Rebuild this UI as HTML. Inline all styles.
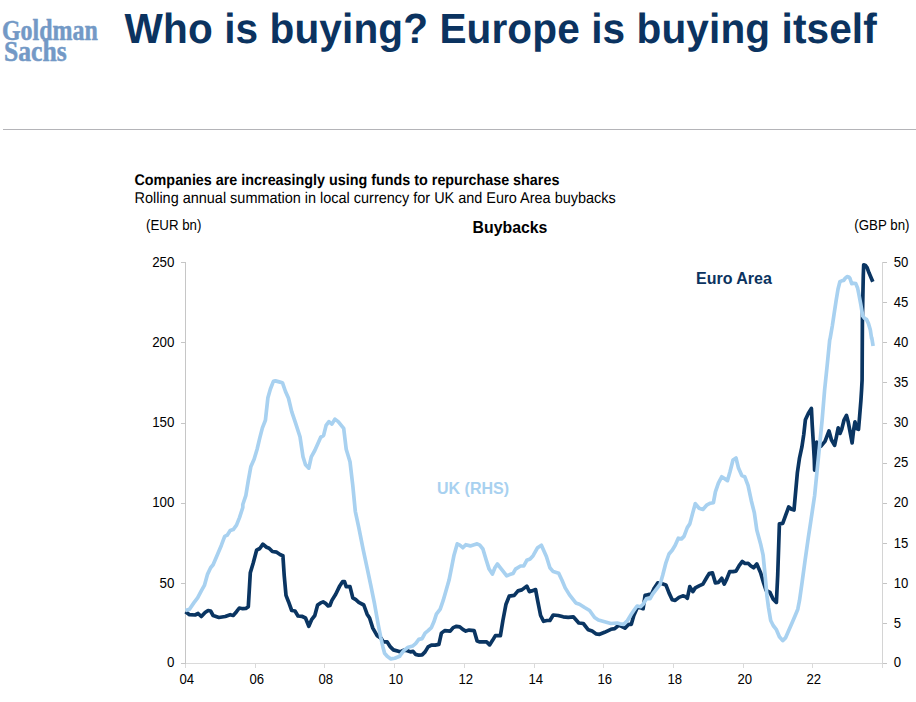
<!DOCTYPE html>
<html><head><meta charset="utf-8"><title>Who is buying?</title>
<style>
html,body{margin:0;padding:0;background:#fff;}
body{width:916px;height:702px;position:relative;overflow:hidden;font-family:"Liberation Sans",sans-serif;color:#000;}
.logo{position:absolute;font-family:"Liberation Serif",serif;font-weight:bold;font-size:29px;line-height:21px;color:#7399c6;transform-origin:0 0;white-space:nowrap;-webkit-text-stroke:0.5px #7399c6;}
.lg1{left:1.7px;top:19.5px;transform:scaleX(0.825);}
.lg2{left:4.2px;top:40.5px;transform:scaleX(0.884);}
.title{position:absolute;left:124.6px;top:6px;letter-spacing:0.1px;font-size:40.6px;font-weight:bold;color:#0b3360;white-space:nowrap;line-height:46px;transform-origin:0 36.8px;transform:scaleY(1.07);}
.rule{position:absolute;left:3px;top:129px;width:913px;height:1px;background:#b4b4b8;}
.sub1{position:absolute;left:134.5px;top:173px;font-size:14.35px;font-weight:bold;white-space:nowrap;line-height:16px;transform-origin:0 12.5px;transform:scaleY(1.07);}
.sub2{position:absolute;left:134.5px;top:189.5px;font-size:14.46px;white-space:nowrap;line-height:16px;transform-origin:0 13.4px;transform:scaleY(1.07);}
svg{position:absolute;left:0;top:0;}
svg text{font-family:"Liberation Sans",sans-serif;font-size:13.15px;fill:#000;}
</style></head><body>
<div class="logo lg1">Goldman</div><div class="logo lg2">Sachs</div>
<div class="rule"></div>
<svg width="916" height="702" viewBox="0 0 916 702">
<g shape-rendering="crispEdges"><rect x="185" y="262" width="1" height="402" fill="#c6c6c6"/><rect x="882" y="262" width="1" height="402" fill="#d4d4d4"/><rect x="186" y="663" width="696" height="1" fill="#dadada"/><rect x="181" y="262" width="4" height="1" fill="#c6c6c6"/><rect x="181" y="342" width="4" height="1" fill="#c6c6c6"/><rect x="181" y="423" width="4" height="1" fill="#c6c6c6"/><rect x="181" y="503" width="4" height="1" fill="#c6c6c6"/><rect x="181" y="583" width="4" height="1" fill="#c6c6c6"/><rect x="181" y="663" width="4" height="1" fill="#c6c6c6"/><rect x="883" y="663" width="4" height="1" fill="#c4c4c4"/><rect x="883" y="623" width="4" height="1" fill="#c4c4c4"/><rect x="883" y="583" width="4" height="1" fill="#c4c4c4"/><rect x="883" y="543" width="4" height="1" fill="#c4c4c4"/><rect x="883" y="503" width="4" height="1" fill="#c4c4c4"/><rect x="883" y="463" width="4" height="1" fill="#c4c4c4"/><rect x="883" y="423" width="4" height="1" fill="#c4c4c4"/><rect x="883" y="382" width="4" height="1" fill="#c4c4c4"/><rect x="883" y="342" width="4" height="1" fill="#c4c4c4"/><rect x="883" y="302" width="4" height="1" fill="#c4c4c4"/><rect x="883" y="262" width="4" height="1" fill="#c4c4c4"/><rect x="185" y="664" width="1" height="4" fill="#dadada"/><rect x="255" y="664" width="1" height="4" fill="#dadada"/><rect x="324" y="664" width="1" height="4" fill="#dadada"/><rect x="394" y="664" width="1" height="4" fill="#dadada"/><rect x="464" y="664" width="1" height="4" fill="#dadada"/><rect x="534" y="664" width="1" height="4" fill="#dadada"/><rect x="603" y="664" width="1" height="4" fill="#dadada"/><rect x="673" y="664" width="1" height="4" fill="#dadada"/><rect x="743" y="664" width="1" height="4" fill="#dadada"/><rect x="812" y="664" width="1" height="4" fill="#dadada"/><rect x="882" y="664" width="1" height="4" fill="#dadada"/></g>
<g><text transform="translate(174.4,266.6) scale(1,1.09)" text-anchor="end" style="font-size:13.35px">250</text><text transform="translate(174.4,346.6) scale(1,1.09)" text-anchor="end" style="font-size:13.35px">200</text><text transform="translate(174.4,426.6) scale(1,1.09)" text-anchor="end" style="font-size:13.35px">150</text><text transform="translate(174.4,507.3) scale(1,1.09)" text-anchor="end" style="font-size:13.35px">100</text><text transform="translate(174.4,587.5) scale(1,1.09)" text-anchor="end" style="font-size:13.35px">50</text><text transform="translate(174.4,667.4) scale(1,1.09)" text-anchor="end" style="font-size:13.35px">0</text><text transform="translate(893.8,667.4) scale(1,1.09)">0</text><text transform="translate(893.8,627.6) scale(1,1.09)">5</text><text transform="translate(893.8,587.5) scale(1,1.09)">10</text><text transform="translate(893.8,547.5) scale(1,1.09)">15</text><text transform="translate(893.8,507.3) scale(1,1.09)">20</text><text transform="translate(893.8,466.6) scale(1,1.09)">25</text><text transform="translate(893.8,426.6) scale(1,1.09)">30</text><text transform="translate(893.8,386.6) scale(1,1.09)">35</text><text transform="translate(893.8,346.6) scale(1,1.09)">40</text><text transform="translate(893.8,306.6) scale(1,1.09)">45</text><text transform="translate(893.8,266.6) scale(1,1.09)">50</text><text transform="translate(186.7,683.8) scale(1,1.09)" text-anchor="middle">04</text><text transform="translate(256.7,683.8) scale(1,1.09)" text-anchor="middle">06</text><text transform="translate(325.7,683.8) scale(1,1.09)" text-anchor="middle">08</text><text transform="translate(395.7,683.8) scale(1,1.09)" text-anchor="middle">10</text><text transform="translate(465.7,683.8) scale(1,1.09)" text-anchor="middle">12</text><text transform="translate(535.7,683.8) scale(1,1.09)" text-anchor="middle">14</text><text transform="translate(604.7,683.8) scale(1,1.09)" text-anchor="middle">16</text><text transform="translate(674.7,683.8) scale(1,1.09)" text-anchor="middle">18</text><text transform="translate(744.7,683.8) scale(1,1.09)" text-anchor="middle">20</text><text transform="translate(813.7,683.8) scale(1,1.09)" text-anchor="middle">22</text></g>
<text transform="translate(124.6,42.8) scale(1,1.04)" style="text-rendering:geometricPrecision;font-size:40.6px;font-weight:bold;fill:#0b3360;letter-spacing:0.1px">Who is buying? Europe is buying itself</text>
<text transform="translate(134.5,185.2) scale(1,1.075)" style="text-rendering:geometricPrecision;font-size:14.35px;font-weight:bold">Companies are increasingly using funds to repurchase shares</text>
<text transform="translate(134.5,202.9) scale(1,1.075)" style="text-rendering:geometricPrecision;font-size:14.46px">Rolling annual summation in local currency for UK and Euro Area buybacks</text>
<text transform="translate(146,229.8) scale(1,1.09)" style="font-size:13.3px">(EUR bn)</text>
<text transform="translate(854.3,229.8) scale(1,1.09)" style="font-size:13.3px">(GBP bn)</text>
<text x="510" y="232.6" text-anchor="middle" style="font-size:15.85px;font-weight:bold">Buybacks</text>
<text x="696" y="284" style="font-size:16px;font-weight:bold;fill:#0b3360">Euro Area</text>
<text x="437" y="494" style="font-size:16px;font-weight:bold;fill:#a8d1f0">UK (RHS)</text>
<path d="M185.5,611.7 L189.5,614.7 L195.1,615.0 L198.1,613.5 L201.3,616.5 L205.1,612.5 L208.1,610.5 L210.6,611.0 L213.1,615.5 L218.9,617.5 L225.2,616.5 L230.2,614.7 L233.2,615.5 L236.5,611.7 L239.3,608.0 L242.8,608.7 L245.8,608.5 L248.3,606.7 L250.3,572.8 L253.3,562.8 L256.6,550.2 L259.8,548.5 L262.9,544.2 L266.6,547.2 L269.1,548.2 L272.4,551.5 L276.7,552.2 L280.4,554.7 L282.9,555.7 L284.2,575.3 L286.0,595.4 L288.5,601.7 L291.7,610.5 L295.0,611.0 L298.0,616.0 L301.8,616.3 L305.5,618.0 L308.8,626.3 L311.8,619.3 L314.8,615.5 L317.6,605.0 L320.6,602.9 L323.1,601.9 L325.6,603.4 L328.1,606.0 L329.9,605.5 L331.9,600.4 L335.7,594.2 L339.4,586.6 L342.7,581.6 L344.5,581.6 L346.2,586.6 L350.0,586.6 L352.8,597.9 L355.8,599.7 L358.8,602.4 L363.8,605.0 L367.1,614.2 L369.6,618.0 L372.8,628.1 L377.1,635.6 L380.9,638.1 L383.4,641.9 L387.2,641.9 L390.4,646.9 L393.4,649.9 L398.4,651.2 L400.0,651.9 L403.8,650.2 L407.5,650.7 L410.5,651.9 L413.1,651.4 L415.6,654.4 L418.8,655.2 L422.1,654.9 L425.1,651.9 L428.1,646.9 L431.4,645.1 L435.2,645.1 L438.9,644.4 L441.4,633.1 L444.7,630.6 L450.2,631.1 L453.2,627.6 L456.5,626.3 L459.8,626.8 L462.8,629.3 L465.8,631.1 L469.1,630.1 L474.1,630.6 L477.1,641.1 L479.8,641.9 L486.6,641.9 L489.6,644.9 L492.4,640.6 L495.4,635.6 L500.4,635.6 L502.9,620.5 L506.0,604.2 L509.2,596.2 L514.2,595.4 L518.0,590.9 L521.8,589.9 L526.8,586.1 L529.3,591.6 L531.8,590.9 L535.6,589.6 L537.6,600.4 L540.6,615.5 L543.6,621.3 L546.9,620.5 L549.9,620.5 L553.2,615.0 L558.2,615.5 L563.2,616.8 L568.2,617.3 L573.3,616.8 L578.8,623.0 L583.3,623.5 L588.3,629.8 L592.1,631.1 L595.9,633.8 L599.6,634.3 L604.6,632.3 L610.9,629.3 L614.7,628.6 L618.4,625.5 L620.0,625.5 L625.0,628.1 L628.8,624.3 L631.3,624.3 L633.8,615.5 L637.1,608.0 L640.1,607.5 L643.1,608.7 L645.1,595.4 L648.1,594.7 L651.4,594.2 L654.4,587.9 L657.7,582.9 L661.4,583.4 L665.9,584.9 L669.0,592.9 L672.2,599.7 L675.2,600.4 L679.0,597.4 L682.8,595.9 L685.8,596.7 L687.3,598.4 L689.8,586.6 L692.8,591.6 L695.3,587.9 L699.1,585.9 L702.9,584.1 L706.6,577.8 L709.1,573.6 L712.4,572.8 L715.4,582.9 L718.4,582.4 L721.7,578.3 L724.2,584.1 L726.7,579.1 L729.7,571.6 L733.0,571.6 L736.0,571.1 L739.3,565.3 L742.3,561.5 L745.0,563.5 L748.1,563.3 L750.6,565.8 L753.6,567.8 L756.8,564.0 L760.6,572.8 L763.6,582.9 L766.1,590.4 L769.9,592.4 L773.2,599.2 L776.4,602.4 L777.7,575.3 L778.7,545.2 L779.4,523.9 L782.7,523.4 L785.7,515.1 L788.7,507.0 L791.5,509.3 L794.0,510.0 L797.4,472.4 L799.5,458.1 L801.9,446.9 L803.8,434.2 L805.4,419.8 L808.3,413.5 L811.4,408.4 L812.2,424.6 L813.4,443.8 L814.3,459.7 L814.6,470.1 L815.4,456.5 L816.7,442.2 L817.8,446.9 L821.0,446.1 L825.0,441.4 L827.1,435.8 L829.0,431.0 L831.4,439.8 L834.6,445.3 L836.6,435.8 L838.2,427.8 L840.1,433.4 L841.7,429.4 L844.1,419.8 L846.5,415.4 L848.1,421.4 L850.5,434.2 L852.1,443.0 L853.7,429.4 L855.0,421.8 L856.5,428.6 L858.5,429.4 L859.6,416.7 L860.9,400.7 L861.6,389.6 L862.1,380.0 L862.4,319.7 L862.9,294.3 L863.3,275.3 L863.7,264.9 L865.2,265.2 L867.1,267.7 L869.0,272.8 L870.9,277.2 L872.8,281.7" fill="none" stroke="#0a3562" stroke-width="3.7" stroke-linejoin="round" stroke-linecap="butt"/>
<path d="M185.5,610.5 L189.5,609.2 L193.8,602.9 L197.6,597.9 L201.3,590.9 L204.4,585.4 L207.6,574.1 L210.6,567.8 L213.1,564.8 L217.7,554.0 L221.4,545.2 L224.7,536.4 L227.2,535.2 L230.2,530.6 L233.2,529.6 L236.5,525.1 L239.5,517.6 L242.8,507.5 L242.8,504.5 L245.8,495.7 L248.3,480.6 L250.8,466.8 L254.1,459.3 L257.1,449.2 L259.8,437.9 L262.4,427.9 L265.4,420.3 L267.9,397.8 L270.4,389.0 L273.4,381.4 L275.4,380.9 L279.2,381.9 L282.4,382.7 L285.5,391.5 L288.5,398.3 L291.7,411.6 L295.5,422.9 L300.0,436.7 L303.0,456.8 L305.5,464.8 L308.8,468.1 L311.3,456.8 L314.8,450.5 L317.6,444.2 L320.6,437.4 L323.6,435.4 L326.1,425.4 L328.9,421.6 L331.9,424.1 L334.9,419.1 L338.2,421.6 L343.7,428.4 L346.2,449.2 L350.0,461.8 L352.8,485.6 L355.3,511.3 L358.8,527.6 L363.3,550.2 L367.1,567.8 L370.8,585.4 L374.6,604.2 L378.4,625.5 L380.9,638.1 L382.9,646.9 L384.6,653.2 L387.2,656.2 L390.9,658.9 L394.7,658.2 L399.7,656.2 L400.0,655.7 L403.8,650.7 L407.5,647.6 L412.6,646.1 L415.6,643.6 L418.8,639.4 L422.1,638.6 L425.1,633.1 L428.1,630.6 L431.4,627.6 L433.9,621.8 L436.4,614.2 L440.2,609.2 L443.2,600.4 L446.5,589.1 L449.0,580.3 L451.5,567.8 L454.0,555.2 L457.2,543.9 L459.8,545.2 L462.8,547.7 L465.8,544.7 L470.3,545.9 L474.1,544.7 L477.1,543.9 L479.8,545.2 L482.9,549.0 L485.9,559.0 L489.1,569.1 L492.4,574.1 L494.9,567.8 L497.4,564.0 L500.4,567.8 L503.4,571.6 L506.7,575.8 L509.7,574.6 L513.0,573.6 L515.5,569.1 L520.5,566.0 L523.8,565.8 L526.8,560.3 L530.1,559.0 L533.1,555.7 L537.6,547.7 L541.4,545.2 L543.6,550.2 L546.4,556.5 L549.9,567.8 L553.2,571.6 L558.7,573.3 L562.0,580.3 L565.2,587.9 L569.5,594.9 L575.8,602.9 L579.5,604.2 L584.6,607.5 L589.6,610.5 L594.6,617.5 L598.4,620.0 L604.6,621.8 L610.9,623.5 L617.2,623.0 L620.0,623.8 L623.8,624.3 L627.5,620.5 L631.3,614.2 L633.8,610.5 L637.1,606.0 L640.6,606.7 L643.1,604.2 L646.4,598.7 L650.1,598.7 L652.6,594.2 L656.4,589.1 L660.2,584.1 L662.7,575.3 L665.9,562.8 L669.0,554.0 L672.2,550.2 L675.2,545.2 L678.3,538.2 L681.5,538.9 L684.0,536.4 L687.3,527.6 L689.8,523.9 L692.8,512.6 L695.3,503.8 L695.3,503.7 L699.1,508.2 L702.9,509.5 L706.6,505.2 L710.4,503.2 L713.4,502.7 L715.4,491.9 L718.4,483.1 L721.7,476.8 L725.0,478.9 L727.5,480.6 L730.0,471.8 L733.0,460.0 L736.0,458.0 L738.5,468.1 L741.8,475.6 L744.8,476.8 L748.1,485.6 L751.3,500.7 L754.3,512.6 L756.8,530.1 L760.6,543.9 L763.1,555.2 L765.1,575.3 L766.9,595.4 L768.6,608.0 L770.7,620.5 L773.2,625.5 L776.2,629.3 L779.4,636.8 L782.7,640.6 L785.7,637.6 L788.7,630.6 L792.0,623.0 L795.0,616.0 L797.8,609.2 L799.5,600.4 L802.0,582.9 L805.1,560.3 L808.3,537.7 L810.8,521.3 L814.6,495.7 L817.1,470.6 L819.6,445.5 L822.1,420.3 L824.6,390.2 L827.2,365.1 L829.7,340.0 L830.1,338.6 L832.3,326.0 L834.2,313.3 L836.1,300.7 L838.0,289.3 L839.9,281.7 L841.8,280.8 L843.7,280.4 L845.3,278.1 L847.1,276.6 L848.8,277.0 L850.0,278.5 L851.7,283.6 L853.8,283.2 L855.7,283.6 L857.6,288.0 L858.9,294.3 L860.8,304.5 L862.7,315.9 L864.6,318.4 L866.5,319.4 L868.4,323.4 L870.3,329.8 L871.6,338.6 L871.8,337.9 L873.1,346.0" fill="none" stroke="#a8d1f0" stroke-width="3.7" stroke-linejoin="round" stroke-linecap="butt"/>
</svg>
</body></html>
